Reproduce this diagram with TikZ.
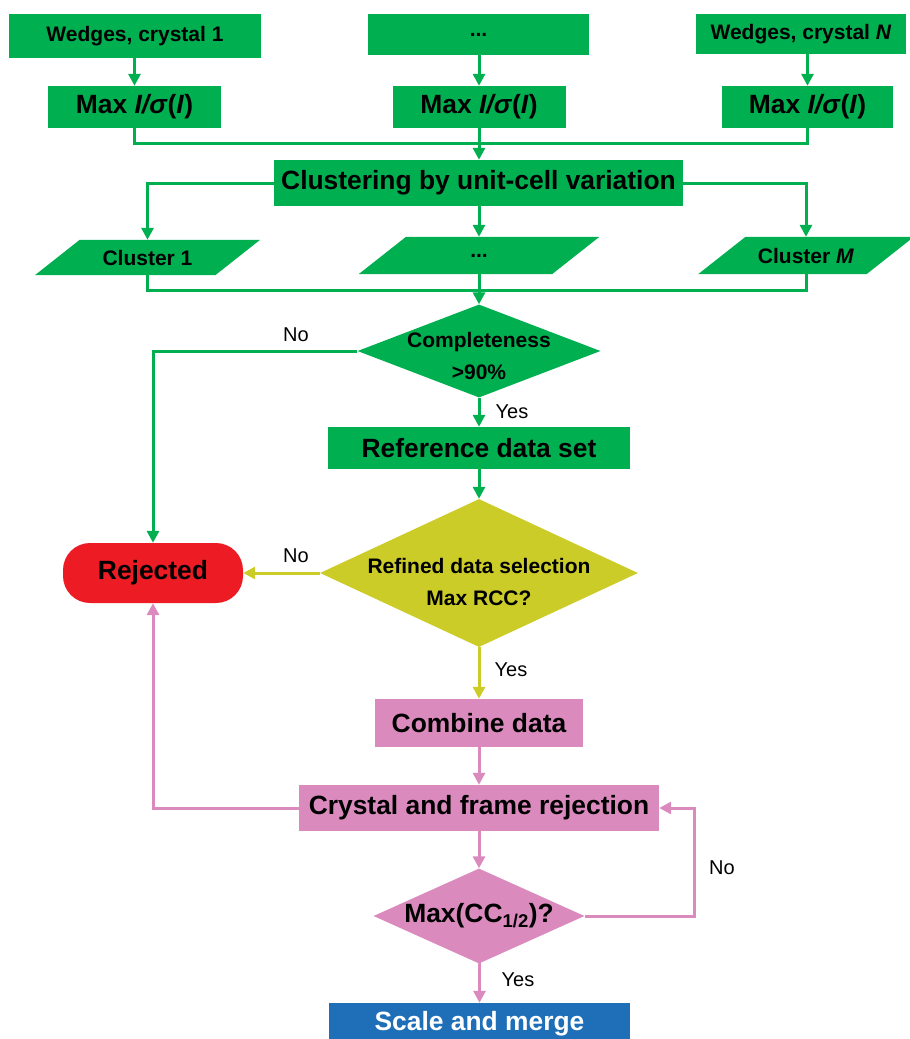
\documentclass[tikz,border=0pt]{standalone}
\usepackage{fontspec}
\setmainfont{Liberation Sans}
\usetikzlibrary{arrows.meta,backgrounds,shapes.geometric}
\definecolor{flowgreen}{HTML}{00B050}
\definecolor{flowolive}{HTML}{CCCC29}
\definecolor{flowred}{HTML}{ED1C24}
\definecolor{flowpink}{HTML}{DB8ABE}
\definecolor{flowblue}{HTML}{1F6FB8}
\newcommand\bigtxt{\bfseries\fontsize{26.4}{30}\selectfont}
\newcommand\smalltxt{\bfseries\fontsize{21}{32}\selectfont}
\newcommand\lbltxt{\fontsize{20}{24}\selectfont}

\begin{document}
\begin{tikzpicture}[x=1pt,y=1pt,yscale=-1,
  box/.style={rectangle,inner sep=0pt,font=\bigtxt},
  slant/.style={rectangle,inner sep=0pt,font=\smalltxt},
  choice/.style={diamond,inner sep=0pt},
  lbl/.style={font=\lbltxt,inner sep=0pt},
  link/.style={draw=#1,line width=3pt},
  arr/.style={-{Triangle[length=12pt,width=12pt]}}]
\useasboundingbox (0,0) rectangle (910,1039);
\clip (0,0) rectangle (910,1039);

% Wedges
\node[box,fill=flowgreen,font=\smalltxt,minimum width=252,minimum height=44] (wedge1) at (135,36) {Wedges, crystal 1};
\node[box,fill=flowgreen,font=\smalltxt,minimum width=221,minimum height=41] (wedge2) at (478.5,34.5) {...};
\node[box,fill=flowgreen,font=\smalltxt,minimum width=210,minimum height=40] (wedge3) at (801,34) {Wedges, crystal \textit{N}};
% Max I/sigma(I)
\node[box,fill=flowgreen,minimum width=173,minimum height=42] (max1) at (134.5,107) {Max \textit{I/σ}(\textit{I})};
\node[box,fill=flowgreen,minimum width=173,minimum height=42] (max2) at (479,107) {Max \textit{I/σ}(\textit{I})};
\node[box,fill=flowgreen,minimum width=171,minimum height=42] (max3) at (807.5,107) {Max \textit{I/σ}(\textit{I})};
% Clustering
\node[box,fill=flowgreen,minimum width=409,minimum height=46] (clust) at (478.5,183) {Clustering by unit-cell variation};
\node[slant,minimum width=180,minimum height=35] (cl1) at (147.5,257.5) {Cluster 1};
\node[slant,minimum width=193,minimum height=37] (cl2) at (479,255.5) {...};
\node[slant,minimum width=168,minimum height=37] (cl3) at (806,255.5) {Cluster \textit{M}};
\begin{scope}[on background layer]
\foreach \n/\s in {cl1/22.4,cl2/23.7,cl3/23.7}
  \fill[flowgreen] ([xshift=\s]\n.north west) -- ([xshift=\s]\n.north east)
    -- ([xshift=-\s]\n.south east) -- ([xshift=-\s]\n.south west) -- cycle;
\end{scope}
% Decisions and steps
\node[choice,fill=flowgreen,minimum width=243,minimum height=93,
  label={[font=\smalltxt,align=center,yshift=-5pt]center:{Completeness\\>90\%}}] (compl) at (479,351) {};
\node[box,fill=flowgreen,minimum width=302,minimum height=42] (refset) at (479,448) {Reference data set};
\node[choice,fill=flowolive,minimum width=318,minimum height=148,
  label={[font=\smalltxt,align=center,yshift=-9pt]center:{Refined data selection\\Max RCC?}}] (refine) at (479,573) {};
\node[box,fill=flowred,rounded corners=27,minimum width=180,minimum height=60] (reject) at (153,573) {Rejected};
\node[box,fill=flowpink,minimum width=208,minimum height=48] (combine) at (479,723) {Combine data};
\node[box,fill=flowpink,minimum width=360,minimum height=46] (crystal) at (479,808) {Crystal and frame rejection};
\node[choice,fill=flowpink,minimum width=211,minimum height=95,
  label={[font=\bigtxt]center:{Max(CC\textsubscript{1/2})?}}] (cchalf) at (479,916) {};
\node[box,fill=flowblue,text=white,minimum width=301,minimum height=42] (scale) at (479.5,1024) {Scale and merge};

% Joints
\coordinate (join1) at (479,143);
\coordinate (join2) at (479,290);
\coordinate (loop) at (694,916);

% Green connectors
\draw[link=flowgreen,arr] (wedge1.south -| max1.north) -- (max1.north);
\draw[link=flowgreen,arr] (wedge2.south -| max2.north) -- (max2.north);
\draw[link=flowgreen,arr] (wedge3.south -| max3.north) -- (max3.north);
\draw[link=flowgreen] (max1.south) |- (join1);
\draw[link=flowgreen] (max3.south) |- (join1);
\draw[link=flowgreen,arr] (max2.south) -- (max2.south |- clust.north);
\draw[link=flowgreen,arr] (clust.west) -| (cl1.north);
\draw[link=flowgreen,arr] (clust.south -| cl2.north) -- (cl2.north);
\draw[link=flowgreen,arr] (clust.east) -| (cl3.north);
\draw[link=flowgreen] (cl1.south) |- (join2);
\draw[link=flowgreen] (cl3.south) |- (join2);
\draw[link=flowgreen,arr] (cl2.south) -- (compl.north);
\draw[link=flowgreen,arr] (compl.west) -| (reject.north);
\draw[link=flowgreen,arr] (compl.south) -- (refset.north);
\draw[link=flowgreen,arr] (refset.south) -- (refine.north);
% Olive connectors
\draw[link=flowolive,arr] (refine.west) -- (reject.east);
\draw[link=flowolive,arr] (refine.south) -- (combine.north);
% Pink connectors
\draw[link=flowpink,arr] (combine.south) -- (crystal.north);
\draw[link=flowpink,arr] (crystal.west) -| (reject.south);
\draw[link=flowpink,arr] (crystal.south) -- (cchalf.north);
\draw[link=flowpink,arr] (cchalf.east) -- (loop) |- (crystal.east);
\draw[link=flowpink,arr] (cchalf.south) -- (cchalf.south -| scale.north) -- (scale.north);

% Text Node
\node[lbl] (no1) at (296,335) {No};
\node[lbl] (yes1) at (512,412) {Yes};
\node[lbl] (no2) at (296,556) {No};
\node[lbl] (yes2) at (511,670) {Yes};
\node[lbl] (no3) at (722,868) {No};
\node[lbl] (yes3) at (518,980) {Yes};
\end{tikzpicture}
\end{document}
